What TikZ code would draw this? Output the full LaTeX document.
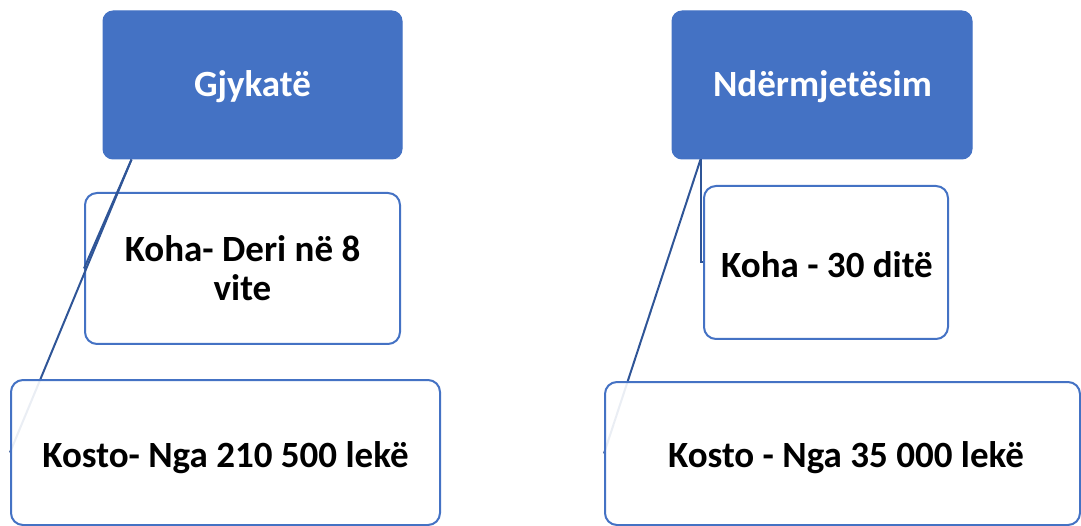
\documentclass[tikz,border=0pt]{standalone}
\usepackage{fontspec}
\setmainfont{Carlito}
\definecolor{accent}{HTML}{4472C4}
\definecolor{linkcol}{HTML}{2F5597}
\pgfdeclarelayer{links}
\pgfdeclarelayer{top}
\pgfsetlayers{main,links,top}
\tikzset{
  headbox/.style={draw=accent, fill=accent, line width=1pt, rounded corners=10pt, inner sep=0pt},
  childbox/.style={draw=accent, fill=white, line width=2pt, rounded corners=12pt, inner sep=0pt},
  lowbox/.style={childbox, fill opacity=0.9},
  link/.style={draw=linkcol, line width=2pt},
  headtext/.style={font=\fontsize{37}{39.5}\selectfont\bfseries, text=white, anchor=base, inner sep=0pt},
  bodytext/.style={font=\fontsize{37}{39.5}\selectfont\bfseries, text=black, inner sep=0pt, align=center},
}
\begin{document}
\begin{tikzpicture}[x=1pt, y=-1pt]
\useasboundingbox (0,0) rectangle (1081,526);
% parent boxes
\node[headbox, minimum width=299pt, minimum height=148pt] (court) at (252.5,85) {};
\node[headbox, minimum width=300pt, minimum height=148pt] (med) at (822,85) {};
\node[headtext] (courtT) at (252.5,97) {Gjykatë};
\node[headtext] (medT) at (822.5,97) {Ndërmjetësim};
% upper child boxes
\node[childbox, minimum width=315pt, minimum height=151pt] (koha1) at (242.5,268.5) {};
\node[childbox, minimum width=244pt, minimum height=153pt] (koha2) at (826,262.5) {};
% lower child boxes, translucent, above the connectors
\begin{pgfonlayer}{top}
\node[lowbox, minimum width=429pt, minimum height=145pt] (kosto1) at (225.5,452.5) {};
\node[lowbox, minimum width=475pt, minimum height=143pt] (kosto2) at (842.5,453.5) {};
\end{pgfonlayer}
% connectors
\coordinate (c1) at ([xshift=29pt]court.south west);
\coordinate (c2) at ([xshift=29pt]med.south west);
\begin{pgfonlayer}{links}
\draw[link] (c1) -- (koha1.west);
\draw[link] (c1) -- (kosto1.west);
\draw[link] (c2) |- (koha2.west);
\draw[link] (c2) -- (kosto2.west);
\end{pgfonlayer}
% texts
\begin{pgfonlayer}{top}
\node[bodytext, anchor=base] (koha1T) at (242.5,301) {Koha- Deri në 8\\vite};
\node[bodytext, anchor=base] (koha2T) at (827,278) {Koha - 30 ditë};
\node[bodytext, anchor=base] (kosto1T) at (225.5,467) {Kosto- Nga 210 500 lekë};
\node[bodytext, anchor=base] (kosto2T) at (846,467) {Kosto - Nga 35 000 lekë};
\end{pgfonlayer}
\end{tikzpicture}
\end{document}
